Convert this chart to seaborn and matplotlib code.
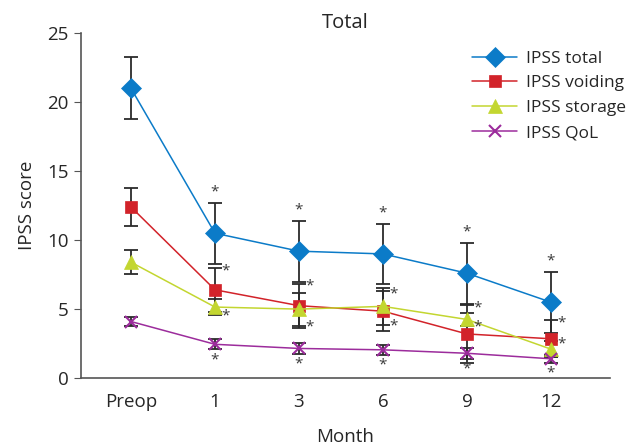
import matplotlib
matplotlib.use('Agg')  # Headless
import matplotlib.pyplot as plt
import seaborn as sns
import pandas as pd

sns.set_style("ticks")
plt.rcParams['font.family'] = ['Open Sans', 'DejaVu Sans']

months = ['Preop', '1', '3', '6', '9', '12']

total = [21.0, 10.5, 9.2, 9.0, 7.6, 5.5]
total_sd = [2.25, 2.2, 2.2, 2.2, 2.2, 2.2]
voiding = [12.4, 6.4, 5.25, 4.85, 3.2, 2.85]
voiding_sd = [1.4, 1.6, 1.6, 1.45, 2.1, 1.35]
storage = [8.4, 5.15, 5.0, 5.2, 4.25, 2.1]
storage_sd = [0.85, 0.55, 1.2, 1.35, 0.45, 0.6]
qol = [4.1, 2.45, 2.15, 2.05, 1.8, 1.4]
qol_sd = [0.35, 0.35, 0.4, 0.35, 0.4, 0.3]

series = [
    ('IPSS total', total, total_sd, '#0b7bc8', 'D', 10),
    ('IPSS voiding', voiding, voiding_sd, '#d2232a', 's', 8.5),
    ('IPSS storage', storage, storage_sd, '#c3d630', '^', 9.5),
    ('IPSS QoL', qol, qol_sd, '#9c2c9c', 'x', 8.5),
]

fig, ax = plt.subplots(figsize=(6.28, 4.48), dpi=100)
fig.subplots_adjust(left=0.129, right=0.971, bottom=0.156, top=0.926)

pos = list(range(len(months)))

# error bars first, lines and markers on top
for name, vals, sd, color, mk, ms in series:
    ax.errorbar(pos, vals, yerr=sd, fmt='none', ecolor='#2b2b2b',
                elinewidth=1.3, capsize=5, capthick=1.3, zorder=2)

for name, vals, sd, color, mk, ms in series:
    df = pd.DataFrame({'x': pos, 'y': vals})
    sns.lineplot(data=df, x='x', y='y', ax=ax, color=color, linewidth=1.1,
                 marker=mk, markersize=ms, markeredgecolor=color,
                 markeredgewidth=1.5 if mk == 'x' else 0.5,
                 label=name, zorder=3)

# significance asterisks (all post-op timepoints)
star = dict(fontsize=11, color='#3a3a3a', ha='center', va='center')
for i in pos[1:]:
    ax.text(i, total[i] + total_sd[i] + 0.8, '*', **star)
    ax.text(i + 0.13, voiding[i] + voiding_sd[i] - 0.2, '*', **star)
    low = max(storage[i] - storage_sd[i], qol[i] + qol_sd[i] + 0.9)
    ax.text(i + 0.13, low - 0.1, '*', **star)
    ax.text(i, qol[i] - qol_sd[i] - 0.75, '*', **star)

ax.set_xlim(-0.595, 5.7)
ax.set_ylim(0, 25)
ax.set_xticks(pos)
ax.set_xticklabels(months)
ax.set_yticks([0, 5, 10, 15, 20, 25])
ax.tick_params(axis='x', length=0, labelsize=13.5, pad=11)
ax.tick_params(axis='y', length=5, labelsize=13.5, color='#555555', pad=4)
for s in ['left', 'bottom']:
    ax.spines[s].set_color('#555555')
    ax.spines[s].set_linewidth(1.2)
sns.despine(ax=ax)

ax.set_xlabel('Month', fontsize=13.5, labelpad=12)
ax.set_ylabel('IPSS score', fontsize=13.5, labelpad=8)
ax.set_title('Total', fontsize=14.5, pad=4)

ax.legend(loc='upper right', bbox_to_anchor=(1.06, 0.995), frameon=False,
          fontsize=12.5, handlelength=2.6, labelspacing=0.5, handletextpad=0.5)

plt.savefig('out.png')
plt.close()
